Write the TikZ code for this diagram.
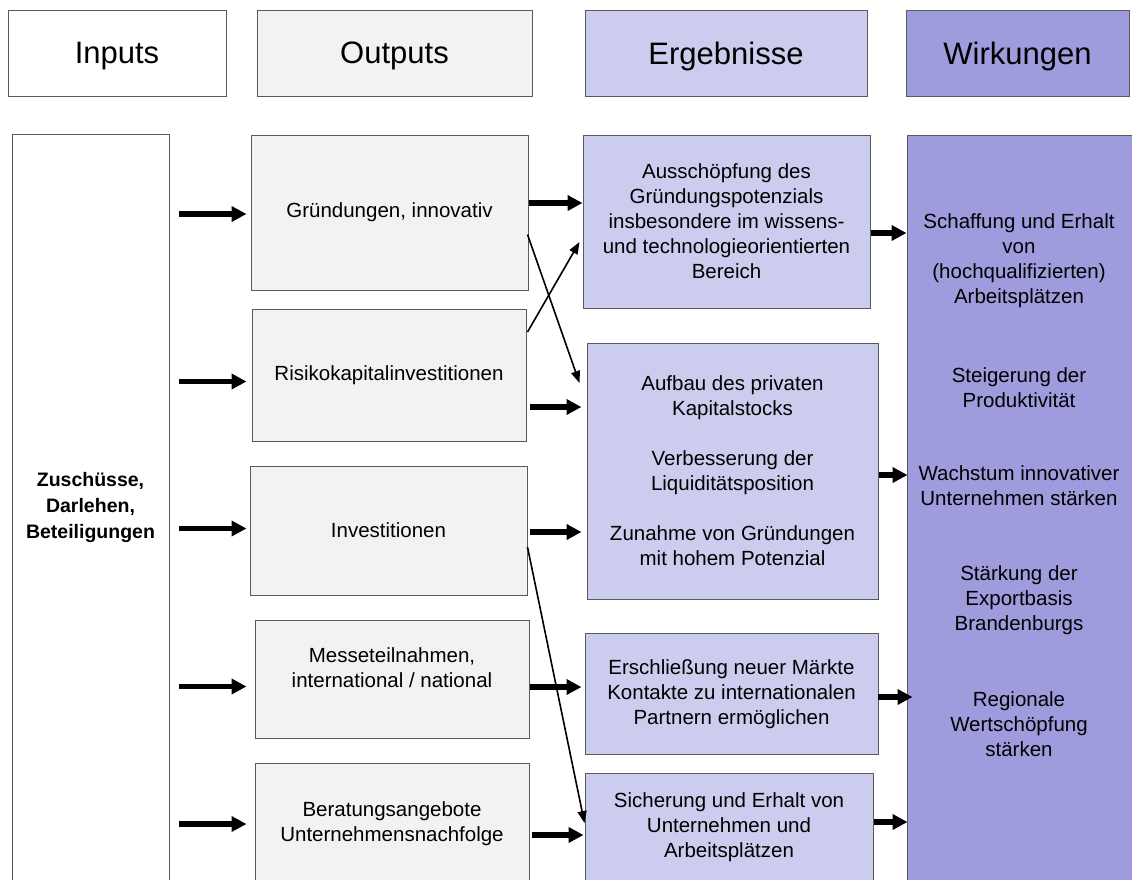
\documentclass[tikz,border=0pt]{standalone}
\usepackage{fontspec}
\setmainfont{Liberation Sans}
\usetikzlibrary{arrows.meta,calc}

\definecolor{edgeclr}{HTML}{5A5A5A}
\definecolor{outfill}{HTML}{F2F2F2}
\definecolor{ergfill}{HTML}{CCCCEE}
\definecolor{wirkfill}{HTML}{9E9CDD}

\newcommand\bodytext{\fontsize{20.5}{25}\selectfont}
\newcommand\headtext{\fontsize{31}{36}\selectfont}
\newcommand\inputtext{\fontsize{19.5}{26}\selectfont\bfseries}

\begin{document}
\begin{tikzpicture}[x=1pt,y=-1pt,
  panel/.style={draw=edgeclr, line width=1pt, inner sep=0pt, align=center, font=\bodytext},
  headbox/.style={panel, font=\headtext, minimum height=86pt, text depth=0pt},
  inbox/.style={panel, fill=white},
  outbox/.style={panel, fill=outfill},
  ergbox/.style={panel, fill=ergfill},
  wirkbox/.style={panel, fill=wirkfill},
  label/.style={inner sep=0pt, align=center, font=\bodytext},
  bigarrow/.style={line width=5.5pt, -{Triangle[length=15pt,width=15pt]}},
  slimarrow/.style={line width=1.6pt, -{Triangle[length=12pt,width=9pt]}},
]
\useasboundingbox (0,0) rectangle (1132,879);
\clip (0,0) rectangle (1132,879);

% column headers
\node[headbox, fill=white,    minimum width=218pt] (hin)   at (117,53)    {Inputs};
\node[headbox, fill=outfill,  minimum width=275pt] (hout)  at (394.5,53)  {Outputs};
\node[headbox, fill=ergfill,  minimum width=282pt] (herg)  at (726,53)    {Ergebnisse};
\node[headbox, fill=wirkfill, minimum width=223pt] (hwirk) at (1017.5,53.5) {Wirkungen};

% inputs column
\node[inbox, minimum width=157pt, minimum height=766pt] (inp) at (90.5,517) {};
\node[label, font=\inputtext] (intext) at (90.5,507) {Zuschüsse,\\Darlehen,\\Beteiligungen};

% outputs column
\node[outbox, minimum width=277pt, minimum height=155pt] (o1) at (389.5,212.5) {Gründungen, innovativ};
\node[outbox, minimum width=274pt, minimum height=132pt] (o2) at (389,375) {Risikokapitalinvestitionen};
\node[outbox, minimum width=277pt, minimum height=129pt] (o3) at (388.5,530.5) {Investitionen};
\node[outbox, minimum width=274pt, minimum height=118pt] (o4) at (392,679) {};
\node[label] (o4text) at (392,668) {Messeteilnahmen,\\international / national};
\node[outbox, minimum width=274pt, minimum height=122pt] (o5) at (392,824) {Beratungsangebote\\Unternehmensnachfolge};

% results column
\node[ergbox, minimum width=287pt, minimum height=173pt] (e1) at (726.5,221.5)
  {Ausschöpfung des\\Gründungspotenzials\\insbesondere im wissens-\\und technologieorientierten\\Bereich};
\node[ergbox, minimum width=291pt, minimum height=256pt] (e2) at (732.5,471)
  {Aufbau des privaten\\Kapitalstocks\\[25pt]Verbesserung der\\Liquiditätsposition\\[25pt]Zunahme von Gründungen\\mit hohem Potenzial};
\node[ergbox, minimum width=293pt, minimum height=121pt] (e3) at (731.5,694)
  {Erschließung neuer Märkte\\Kontakte zu internationalen\\Partnern ermöglichen};
\node[ergbox, minimum width=288pt, minimum height=108pt] (e4) at (729,827)
  {Sicherung und Erhalt von\\Unternehmen und\\Arbeitsplätzen};

% impacts column
\node[wirkbox, minimum width=233pt, minimum height=765pt] (wk) at (1023.5,517.5) {};
\node[label] (w1) at (1019,261) {Schaffung und Erhalt\\von\\(hochqualifizierten)\\Arbeitsplätzen};
\node[label] (w2) at (1019,388) {Steigerung der\\Produktivität};
\node[label] (w3) at (1019,486) {Wachstum innovativer\\Unternehmen stärken};
\node[label] (w4) at (1019,600) {Stärkung der\\Exportbasis\\Brandenburgs};
\node[label] (w5) at (1019,724.5) {Regionale\\Wertschöpfung\\stärken};

% inputs -> outputs
\draw[bigarrow] ($(inp.east |- o1.west)+(9,1.5)$) -- ($(o1.west)+(-4,1.5)$);
\draw[bigarrow] ($(inp.east |- o2.west)+(9,6.5)$) -- ($(o2.west)+(-5,6.5)$);
\draw[bigarrow] ($(inp.east |- o3.west)+(9,-2)$)  -- ($(o3.west)+(-3,-2)$);
\draw[bigarrow] ($(inp.east |- o4.west)+(9,7.5)$) -- ($(o4.west)+(-8,7.5)$);
\draw[bigarrow] ($(inp.east |- o5.west)+(9,0)$)   -- ($(o5.west)+(-8,0)$);

% outputs -> results
\draw[bigarrow] ($(o1.east)+(0,-9.5)$) -- ($(e1.west)+(0,-18.5)$);
\draw[bigarrow] ($(o2.east)+(3,32)$)   -- ($(e2.west)+(-5,-64)$);
\draw[bigarrow] ($(o3.east)+(2,1.5)$)  -- ($(e2.west)+(-5,61)$);
\draw[bigarrow] ($(o4.east)+(0,8)$)    -- ($(e3.west)+(-3,-7)$);
\draw[bigarrow] ($(o5.east)+(2,11)$)   -- ($(e4.west)+(-1,8)$);

% cross links
\draw[slimarrow] ($(o1.east)+(-1,22)$)  -- ($(e2.west)+(-7,-88)$);
\draw[slimarrow] ($(o2.east)+(1,-43)$)  -- ($(e1.west)+(-3,20.5)$);
\draw[slimarrow] ($(o3.east)+(0,16.5)$) -- ($(e4.west)+(0,-4)$);

% results -> impacts
\draw[bigarrow] ($(e1.east)+(0,11.5)$) -- ($(wk.west |- e1.east)+(0,11.5)$);
\draw[bigarrow] ($(e2.east)+(0,4)$)    -- ($(wk.west |- e2.east)+(1,4)$);
\draw[bigarrow] ($(e3.east)+(-1,3)$)   -- ($(wk.west |- e3.east)+(6,3)$);
\draw[bigarrow] ($(e4.east)+(0,-5)$)   -- ($(wk.west |- e4.east)+(1,-5)$);
\end{tikzpicture}
\end{document}
